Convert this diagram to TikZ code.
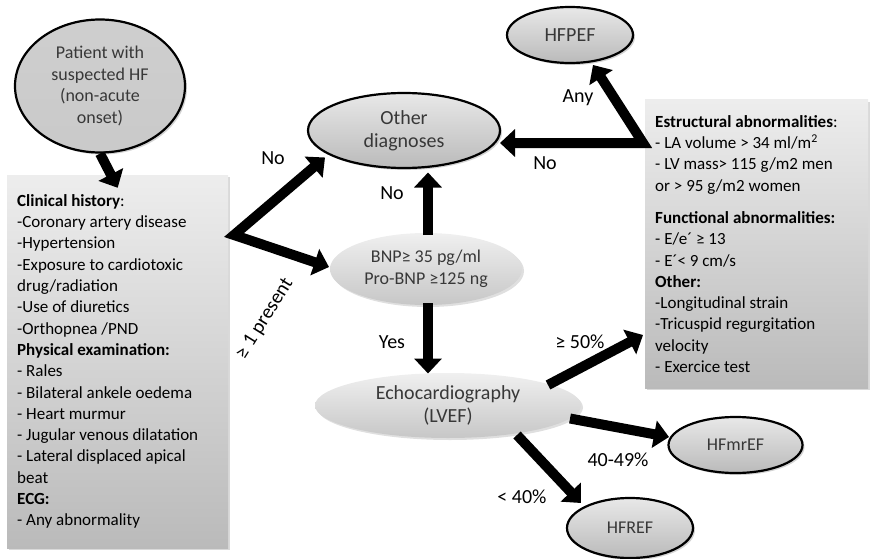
\documentclass[tikz,border=0pt]{standalone}
\usepackage{fontspec}
\setmainfont{Carlito}
\usetikzlibrary{shapes.geometric,arrows.meta,shadows}
\begin{document}
\begin{tikzpicture}[x=1pt,y=-1pt,
  every node/.style={font=\fontsize{18}{21.5}\selectfont},
  big/.style={font=\fontsize{20}{23}\selectfont},
  oval/.style={ellipse, draw=black, line width=2.2pt, inner sep=0pt, align=center,
     text=black!78, top color=black!9, bottom color=black!27,
     drop shadow={opacity=0.35, shadow xshift=2pt, shadow yshift=-2pt}},
  softoval/.style={ellipse, inner sep=0pt, align=center, text=black!78,
     top color=black!6, bottom color=black!22,
     drop shadow={opacity=0.25, shadow xshift=2pt, shadow yshift=-2pt}},
  infobox/.style={rectangle, inner xsep=0pt, inner ysep=0pt,
     font=\fontsize{17}{21.3}\selectfont,
     top color=black!7, bottom color=black!27,
     drop shadow={opacity=0.3, shadow xshift=2pt, shadow yshift=-2pt}},
  fat/.style={line width=10pt, -{Triangle[length=15pt,width=27pt]}},
  fatv/.style={line width=10pt, line join=miter, {Triangle[length=15pt,width=27pt]}-{Triangle[length=15pt,width=27pt]}},
  lbl/.style={font=\fontsize{20}{24}\selectfont, text=black}
]
\useasboundingbox (0,0) rectangle (872,559);

% nodes
\node[oval, minimum width=170pt, minimum height=133pt, top color=black!19, bottom color=black!21] (patient) at (100,86)
  {Patient with\\suspected HF\\(non-acute\\onset)};
\node[infobox, anchor=west, minimum width=221pt, minimum height=373pt] (clin) at (7,361.5)
  {\parbox{201pt}{\raggedright
   \textbf{Clinical history}:\\
   -Coronary artery disease\\
   -Hypertension\\
   -Exposure to cardiotoxic\\
   drug/radiation\\
   -Use of diuretics\\
   -Orthopnea /PND\\
   \textbf{Physical examination:}\\
   - Rales\\
   - Bilateral ankele oedema\\
   - Heart murmur\\
   - Jugular venous dilatation\\
   - Lateral displaced apical\\
   beat\\
   \textbf{ECG:}\\
   - Any abnormality}};
\node[oval, big, minimum width=192pt, minimum height=75pt] (other) at (404,130.5) {Other\\diagnoses};
\node[oval, big, minimum width=126pt, minimum height=56pt] (hfpef) at (570,35) {HFPEF};
\node[softoval, minimum width=192pt, minimum height=72pt] (bnp) at (426,269)
  {BNP≥ 35 pg/ml\\Pro-BNP ≥125 ng};
\node[softoval, big, minimum width=266pt, minimum height=65pt] (echo) at (448,405.5)
  {Echocardiography\\(LVEF)};
\node[oval, minimum width=134pt, minimum height=56pt] (hfmref) at (735.5,445) {HFmrEF};
\node[oval, minimum width=126pt, minimum height=60pt] (hfref) at (630,528) {HFREF};
\node[infobox, anchor=west, minimum width=223pt, minimum height=288pt] (crit) at (645,244)
  {\parbox{203pt}{\raggedright
   \textbf{Estructural abnormalities}:\\
   - LA volume > 34 ml/m\textsuperscript{2}\\
   - LV mass> 115 g/m2 men\\
   or > 95 g/m2 women\\[11pt]
   \textbf{Functional abnormalities:}\\
   - E/e´ ≥ 13\\
   - E´< 9 cm/s\\
   \textbf{Other:}\\
   -Longitudinal strain\\
   -Tricuspid regurgitation\\
   velocity\\
   - Exercice test}};

% vertices
\coordinate (v1) at (234,235);
\coordinate (v2) at (643,143);

% connectors
\draw[fat] (patient.south) -- ([yshift=-13pt]clin.north);
\draw[fatv] ([shift={(-79,27)}]other.center) -- (v1) -- ([shift={(-97,-2)}]bnp.center);
\draw[fat] ([shift={(2,-34)}]bnp.center) -- ([shift={(24,42)}]other.center);
\draw[fat] ([shift={(2,34)}]bnp.center) -- ([shift={(-20,-32)}]echo.center);
\draw[fatv] ([shift={(23,30)}]hfpef.center) -- (v2) -- ([shift={(96,12.5)}]other.center);
\draw[fat] ([shift={(100,-20.5)}]echo.center) -- ([shift={(-2,91)}]crit.west);
\draw[fat] ([shift={(122,13)}]echo.center) -- ([shift={(-66.5,-8)}]hfmref.center);
\draw[fat] ([shift={(69,29.5)}]echo.center) -- ([shift={(-49,-25)}]hfref.center);

% labels
\node[lbl] (lno1) at (273,158) {No};
\node[lbl, rotate=58] (lpres) at (265,319) {≥ 1 present};
\node[lbl] (lno2) at (392,193) {No};
\node[lbl] (lyes) at (392,342) {Yes};
\node[lbl] (lany) at (578,98) {Any};
\node[lbl] (lno3) at (545,163) {No};
\node[lbl] (l50) at (580,342) {≥ 50\%};
\node[lbl] (l4049) at (618,460) {40-49\%};
\node[lbl] (l40) at (522,497) {< 40\%};
\end{tikzpicture}
\end{document}
